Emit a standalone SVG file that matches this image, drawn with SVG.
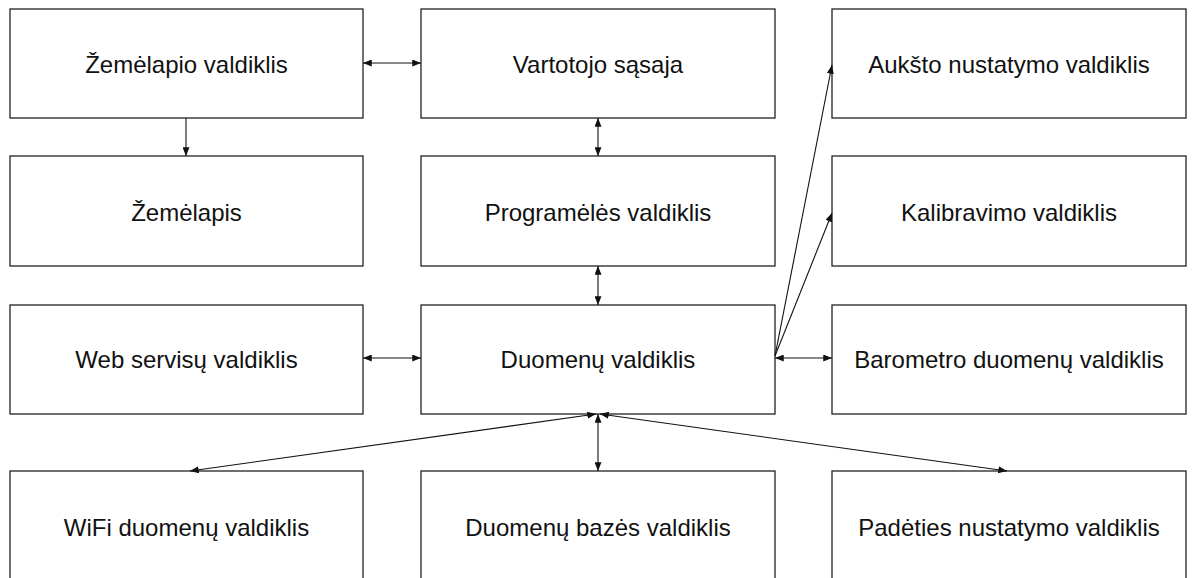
<svg xmlns="http://www.w3.org/2000/svg" width="1192" height="578" viewBox="0 0 1192 578">
  <style>
    .box { fill: #ffffff; stroke: #222222; stroke-width: 1.3; }
    .lbl { font-family: "Liberation Sans", Arial, sans-serif; font-size: 24px; fill: #111111; text-anchor: middle; dominant-baseline: central; }
    .edge { stroke: #111111; stroke-width: 1.1; fill: none; }
  </style>
  <defs>
    <marker id="head" viewBox="0 0 10 8" refX="10" refY="4" markerWidth="9" markerHeight="7" markerUnits="userSpaceOnUse" orient="auto-start-reverse">
      <path d="M0,0 L10,4 L0,8 Z" fill="#111111"/>
    </marker>
  </defs>
  <rect width="1192" height="578" fill="#ffffff"/>

  <g id="zemelapio-valdiklis"><rect class="box" x="10" y="9" width="353" height="109"/><text class="lbl" x="186.5" y="64">Žemėlapio valdiklis</text></g>
  <g id="vartotojo-sasaja"><rect class="box" x="421" y="9" width="354" height="109"/><text class="lbl" x="598" y="64">Vartotojo sąsaja</text></g>
  <g id="auksto-nustatymo-valdiklis"><rect class="box" x="832" y="9" width="354" height="109"/><text class="lbl" x="1009" y="64">Aukšto nustatymo valdiklis</text></g>

  <g id="zemelapis"><rect class="box" x="10" y="156" width="353" height="110"/><text class="lbl" x="186.5" y="212">Žemėlapis</text></g>
  <g id="programeles-valdiklis"><rect class="box" x="421" y="156" width="354" height="110"/><text class="lbl" x="598" y="212">Programėlės valdiklis</text></g>
  <g id="kalibravimo-valdiklis"><rect class="box" x="832" y="156" width="354" height="110"/><text class="lbl" x="1009" y="212">Kalibravimo valdiklis</text></g>

  <g id="web-servisu-valdiklis"><rect class="box" x="10" y="305" width="353" height="109"/><text class="lbl" x="186.5" y="359">Web servisų valdiklis</text></g>
  <g id="duomenu-valdiklis"><rect class="box" x="421" y="305" width="354" height="109"/><text class="lbl" x="598" y="359">Duomenų valdiklis</text></g>
  <g id="barometro-duomenu-valdiklis"><rect class="box" x="832" y="305" width="354" height="109"/><text class="lbl" x="1009" y="359">Barometro duomenų valdiklis</text></g>

  <g id="wifi-duomenu-valdiklis"><rect class="box" x="10" y="471" width="353" height="112"/><text class="lbl" x="186.5" y="527">WiFi duomenų valdiklis</text></g>
  <g id="duomenu-bazes-valdiklis"><rect class="box" x="421" y="471" width="354" height="112"/><text class="lbl" x="598" y="527">Duomenų bazės valdiklis</text></g>
  <g id="padeties-nustatymo-valdiklis"><rect class="box" x="832" y="471" width="354" height="112"/><text class="lbl" x="1009" y="527">Padėties nustatymo valdiklis</text></g>

  <g id="connectors">
    <line class="edge" x1="363" y1="63" x2="421" y2="63" marker-start="url(#head)" marker-end="url(#head)"/>
    <line class="edge" x1="186" y1="118" x2="186" y2="156" marker-end="url(#head)"/>
    <line class="edge" x1="598" y1="118" x2="598" y2="156" marker-start="url(#head)" marker-end="url(#head)"/>
    <line class="edge" x1="598" y1="266" x2="598" y2="305" marker-start="url(#head)" marker-end="url(#head)"/>
    <line class="edge" x1="363" y1="358" x2="421" y2="358" marker-start="url(#head)" marker-end="url(#head)"/>
    <line class="edge" x1="775" y1="358" x2="832" y2="358" marker-start="url(#head)" marker-end="url(#head)"/>
    <line class="edge" x1="775" y1="356" x2="832" y2="65" marker-end="url(#head)"/>
    <line class="edge" x1="775" y1="356" x2="832" y2="213" marker-end="url(#head)"/>
    <line class="edge" x1="598" y1="414" x2="598" y2="471" marker-start="url(#head)" marker-end="url(#head)"/>
    <line class="edge" x1="596" y1="414" x2="190" y2="471" marker-start="url(#head)" marker-end="url(#head)"/>
    <line class="edge" x1="600" y1="414" x2="1007" y2="471" marker-start="url(#head)" marker-end="url(#head)"/>
  </g>
</svg>
